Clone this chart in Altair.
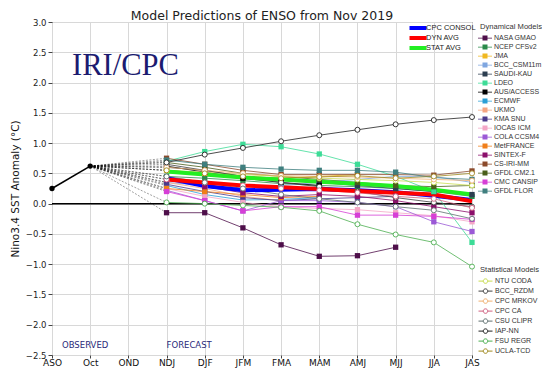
import altair as alt
import pandas as pd

months = ["ASO", "Oct", "OND", "NDJ", "DJF", "JFM", "FMA", "MAM", "AMJ", "MJJ", "JJA", "JAS"]
fc_months = ["NDJ", "DJF", "JFM", "FMA", "MAM", "AMJ", "MJJ", "JJA", "JAS"]

obs_months = ["ASO", "Oct"]
obs_values = [0.25, 0.62]

dyn_models = ["NASA GMAO", "NCEP CFSv2", "JMA", "BCC_CSM11m", "SAUDI-KAU", "LDEO",
              "AUS/ACCESS", "ECMWF", "UKMO", "KMA SNU", "IOCAS ICM", "COLA CCSM4",
              "MetFRANCE", "SINTEX-F", "CS-IRI-MM", "GFDL CM2.1", "CMC CANSIP", "GFDL FLOR"]
dyn_colors = ["#4e0f4a", "#2a8a4a", "#f0b820", "#7fa6e0", "#2c3e50", "#3ddc97",
              "#000000", "#2a9fd6", "#f4a582", "#4b3a8c", "#f4a6c6", "#9b59d6",
              "#f07f1a", "#8b0f6b", "#8b4a2b", "#4a5e1a", "#d63fd6", "#3f7f7f"]
dyn_values = {
    "NASA GMAO":  [-0.15, -0.15, -0.40, -0.68, -0.87, -0.86, -0.72, None, None],
    "NCEP CFSv2": [0.45, 0.42, 0.38, 0.33, 0.30, 0.28, 0.25, 0.20, 0.12],
    "JMA":        [0.55, 0.50, 0.45, 0.42, 0.45, 0.48, None, None, None],
    "BCC_CSM11m": [0.35, 0.30, 0.25, 0.30, 0.35, 0.40, 0.45, 0.45, 0.35],
    "SAUDI-KAU":  [0.60, 0.55, 0.45, 0.40, 0.35, 0.30, 0.25, 0.20, 0.15],
    "LDEO":       [0.70, 0.86, 0.98, 0.94, 0.82, 0.65, 0.45, 0.20, -0.64],
    "AUS/ACCESS": [0.62, 0.52, 0.42, 0.35, 0.30, None, None, None, None],
    "ECMWF":      [0.30, 0.15, 0.06, 0.07, 0.10, None, None, None, None],
    "UKMO":       [0.35, 0.25, 0.12, 0.05, None, None, None, None, None],
    "KMA SNU":    [0.32, 0.20, 0.10, 0.05, 0.08, 0.10, 0.12, None, None],
    "IOCAS ICM":  [0.25, 0.12, 0.02, -0.05, -0.08, -0.10, -0.15, -0.20, -0.30],
    "COLA CCSM4": [0.22, 0.05, -0.12, 0.05, 0.05, 0.02, -0.05, -0.30, -0.46],
    "MetFRANCE":  [0.25, 0.20, 0.15, 0.10, 0.12, None, None, None, None],
    "SINTEX-F":   [0.40, 0.28, 0.18, 0.12, 0.15, 0.12, 0.05, -0.05, -0.15],
    "CS-IRI-MM":  [0.75, 0.65, 0.55, 0.48, 0.48, 0.48, 0.48, 0.47, 0.54],
    "GFDL CM2.1": [0.68, 0.60, 0.50, 0.45, 0.40, 0.35, 0.30, 0.28, 0.30],
    "CMC CANSIP": [0.20, 0.05, -0.12, -0.05, -0.05, -0.19, -0.19, -0.21, -0.26],
    "GFDL FLOR":  [0.72, 0.65, 0.60, 0.57, 0.55, 0.55, 0.52, 0.43, 0.40],
}

stat_models = ["NTU CODA", "BCC_RZDM", "CPC MRKOV", "CPC CA", "CSU CLIPR", "IAP-NN", "FSU REGR", "UCLA-TCD"]
stat_colors = ["#c8dc50", "#404040", "#f0b070", "#d06080", "#607070", "#202020", "#4caf50", "#a08a20"]
stat_values = {
    "NTU CODA":  [0.55, 0.52, 0.48, 0.45, 0.42, 0.40, 0.38, 0.35, 0.30],
    "BCC_RZDM":  [0.65, 0.55, 0.45, 0.35, 0.28, 0.20, 0.10, 0.02, -0.05],
    "CPC MRKOV": [0.60, 0.55, 0.50, 0.46, 0.45, 0.44, 0.42, 0.40, 0.38],
    "CPC CA":    [0.40, 0.35, 0.30, 0.25, 0.22, 0.18, 0.12, 0.08, -0.07],
    "CSU CLIPR": [0.45, 0.35, 0.25, 0.15, 0.08, 0.02, -0.05, -0.11, -0.25],
    "IAP-NN":    [0.68, 0.81, 0.92, 1.03, 1.13, 1.22, 1.31, 1.38, 1.43],
    "FSU REGR":  [0.02, 0.00, -0.03, -0.06, -0.12, -0.34, -0.51, -0.64, -1.04],
    "UCLA-TCD":  [0.55, 0.50, 0.45, 0.42, 0.44, 0.46, 0.42, 0.45, 0.50],
}

avg_names = ["CPC CONSOL", "DYN AVG", "STAT AVG"]
avg_colors = ["#0000ff", "#ff0000", "#22ee22"]
avg_values = {
    "CPC CONSOL": [0.42, 0.29, 0.22, 0.23, 0.24, 0.22, 0.19, 0.13, 0.06],
    "DYN AVG":    [0.40, 0.35, 0.30, 0.27, 0.24, 0.21, 0.18, 0.15, 0.04],
    "STAT AVG":   [0.53, 0.48, 0.43, 0.40, 0.36, 0.33, 0.29, 0.23, 0.15],
}


def long_df(values):
    rows = []
    for name, vals in values.items():
        for mon, v in zip(fc_months, vals):
            if v is not None:
                rows.append({"model": name, "month": mon, "value": v})
    return pd.DataFrame(rows)


dyn_df = long_df(dyn_values)
stat_df = long_df(stat_values)
avg_df = long_df(avg_values)
obs_df = pd.DataFrame({"month": obs_months, "value": obs_values})

conn_rows = []
for name, vals in list(dyn_values.items()) + list(stat_values.items()):
    conn_rows.append({"model": name, "month": "Oct", "value": obs_values[1]})
    conn_rows.append({"model": name, "month": "NDJ", "value": vals[0]})
conn_df = pd.DataFrame(conn_rows)

y_ticks = [-2.5, -2.0, -1.5, -1.0, -0.5, 0.0, 0.5, 1.0, 1.5, 2.0, 2.5, 3.0]

X = alt.X("month:N", sort=months,
          scale=alt.Scale(type="point", domain=months, padding=0),
          axis=alt.Axis(title=None, grid=True, labelAngle=0, labelFontSize=9,
                        labelColor="#111", tickSize=3, tickColor="#444",
                        labelPadding=0, domain=False, gridColor="#d8d8d8"))
Y = alt.Y("value:Q",
          scale=alt.Scale(domain=[-2.5, 3.0], nice=False, zero=False),
          axis=alt.Axis(title="Nino3.4 SST Anomaly (°C)", values=y_ticks, format=".1f",
                        grid=True, labelFontSize=8.5, labelColor="#222", tickSize=4,
                        tickColor="#444", labelPadding=2, domain=False,
                        titleFontSize=10.5, titleFontWeight="normal", titleColor="#111",
                        titlePadding=5, gridColor="#d8d8d8"))

zero = alt.Chart(pd.DataFrame({"value": [0.0]})).mark_rule(color="black", strokeWidth=1.5).encode(y=Y)

conn = alt.Chart(conn_df).mark_line(color="black", strokeWidth=0.5, strokeDash=[2, 1.5], opacity=0.75).encode(
    x=X, y=Y, detail="model:N")

obs_line = alt.Chart(obs_df).mark_line(color="black", strokeWidth=1.5).encode(x=X, y=Y)
obs_pts = alt.Chart(obs_df).mark_point(color="black", filled=True, size=28, opacity=1).encode(x=X, y=Y)

dyn_scale = alt.Scale(domain=dyn_models, range=dyn_colors)
stat_scale = alt.Scale(domain=stat_models, range=stat_colors)
avg_scale = alt.Scale(domain=avg_names, range=avg_colors)

dyn_lines = alt.Chart(dyn_df).mark_line(strokeWidth=0.8).encode(
    x=X, y=Y, color=alt.Color("model:N", scale=dyn_scale, legend=None))
stat_lines = alt.Chart(stat_df).mark_line(strokeWidth=0.8).encode(
    x=X, y=Y, color=alt.Color("model:N", scale=stat_scale, legend=None))

avg_lines = alt.Chart(avg_df).mark_line(strokeWidth=4).encode(
    x=X, y=Y,
    color=alt.Color("model:N", scale=avg_scale,
                    legend=alt.Legend(title=None, orient="none", legendX=362, legendY=2,
                                      symbolType="M-2.5,-0.33H2.5V0.33H-2.5Z", symbolSize=36,
                                      symbolStrokeWidth=2, labelFont="Liberation Sans",
                                      labelFontSize=7.5, labelColor="#222",
                                      labelOffset=4, rowPadding=0, padding=0, columns=1)))

legend_common = dict(orient="none", symbolSize=100, symbolOpacity=1,
                     labelFont="Liberation Sans", labelFontSize=7, labelColor="#333", labelOffset=4,
                     titleFont="Liberation Sans", titleFontSize=7.6, titleFontWeight="normal",
                     titleColor="#333", padding=0, columns=1)

dyn_pts = alt.Chart(dyn_df).mark_point(shape="square", filled=True, size=28, opacity=1).encode(
    x=X, y=Y,
    color=alt.Color("model:N", scale=dyn_scale,
                    legend=alt.Legend(title="Dynamical Models", legendX=428, legendY=1,
                                      symbolType="M-1.4,-0.08H1.4V0.08H-1.4ZM-0.5,-0.5H0.5V0.5H-0.5Z",
                                      symbolStrokeWidth=0, titlePadding=2.5, rowPadding=1,
                                      **legend_common)))

stat_pts = alt.Chart(stat_df).mark_point(shape="circle", filled=False, fill="white", size=25,
                                          strokeWidth=0.9, opacity=1).encode(
    x=X, y=Y,
    color=alt.Color("model:N", scale=stat_scale,
                    legend=alt.Legend(title="Statistical Models", legendX=428, legendY=244,
                                      symbolType="M-1.4,0H-0.45M0.45,0H1.4M0.45,0A0.45,0.45 0 1,1 -0.45,0A0.45,0.45 0 1,1 0.45,0",
                                      symbolStrokeWidth=1, titlePadding=2, rowPadding=0,
                                      **legend_common)))

iri_df = pd.DataFrame({"month": ["ASO"], "value": [2.28], "label": ["IRI/CPC"]})
iri_text = alt.Chart(iri_df).mark_text(font="Liberation Serif", fontSize=30.5, color="#1b1b70",
                                        align="left", baseline="middle", dx=20).encode(
    x=X, y=Y, text="label:N")

obs_lab_df = pd.DataFrame({"month": ["ASO"], "value": [-2.34], "label": ["OBSERVED"]})
fc_lab_df = pd.DataFrame({"month": ["NDJ"], "value": [-2.34], "label": ["FORECAST"]})
obs_text = alt.Chart(obs_lab_df).mark_text(fontSize=8.5, color="#2a2a7a", align="left",
                                            baseline="middle", dx=10).encode(
    x=X, y=Y, text="label:N")
fc_text = alt.Chart(fc_lab_df).mark_text(fontSize=8.5, color="#2a2a7a", align="left",
                                          baseline="middle", dx=0).encode(
    x=X, y=Y, text="label:N")

chart = alt.layer(
    zero, conn, dyn_lines, stat_lines, avg_lines, obs_line, obs_pts, dyn_pts, stat_pts,
    iri_text, obs_text, fc_text
).resolve_scale(color="independent").properties(
    width=420, height=333,
    title=alt.TitleParams("Model Predictions of ENSO from Nov 2019", fontSize=12.5,
                          fontWeight="normal", color="#222", anchor="middle", offset=-4),
    autosize=alt.AutoSizeParams(type="none"),
    padding={"left": 44, "top": 14, "right": 70, "bottom": 14},
).configure(font="DejaVu Sans").configure_view(stroke="#444", strokeWidth=1)

chart.save("out.html", embed_options={"renderer": "svg", "actions": False})
